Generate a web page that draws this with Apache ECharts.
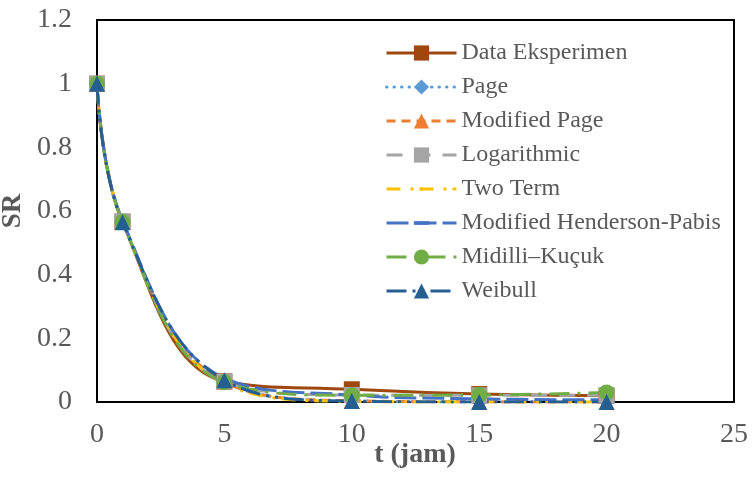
<!DOCTYPE html>
<html>
<head>
<meta charset="utf-8">
<script src="https://cdn.jsdelivr.net/npm/echarts@6/dist/echarts.min.js"></script>
<style>
html,body{margin:0;padding:0;background:#fff;}
#chart{width:752px;height:478px;}
</style>
</head>
<body>
<div id="chart"></div>
<script>
var tValues = [0, 1, 5, 10, 15, 20];
var dataEksperimen = [1, 0.566, 0.065, 0.040, 0.025, 0.020];
var page = [1, 0.566, 0.063, 0.004, 0.0005, 0.0001];
var modifiedPage = [1, 0.566, 0.063, 0.004, 0.0005, 0.0001];
var logarithmic = [1, 0.568, 0.064, 0.022, 0.021, 0.021];
var twoTerm = [1, 0.565, 0.058, 0.002, 0.0, 0.0];
var modHendersonPabis = [1, 0.570, 0.075, 0.022, 0.010, 0.007];
var midilliKucuk = [1, 0.566, 0.062, 0.021, 0.022, 0.030];
var weibull = [1, 0.565, 0.068, 0.003, 0.0001, 0.0];

var seriesNames = ['Data Eksperimen', 'Page', 'Modified Page', 'Logarithmic', 'Two Term',
  'Modified Henderson-Pabis', 'Midilli\u2013Ku\u00e7uk', 'Weibull'];
var seriesValues = [dataEksperimen, page, modifiedPage, logarithmic, twoTerm,
  modHendersonPabis, midilliKucuk, weibull];
var xTitle = 't (jam)';
var yTitle = 'SR';

var FONT = "'Liberation Serif', 'Times New Roman', Times, serif";
var BAR = 'path://M0,0M12,12M0,4.6L12,4.6L12,7.4L0,7.4Z';
var DOT = 'path://M0,0M12,12M5,4.6L7,4.6L7,7.4L5,7.4Z';

var styles = [
  {color: '#9E480E', type: 'solid', symbol: 'rect', cap: 'butt', show: true},
  {color: '#5B9BD5', type: [0.5, 7], symbol: 'diamond', cap: 'round', show: true},
  {color: '#ED7D31', type: [9, 6], symbol: 'triangle', cap: 'butt', show: true},
  {color: '#A5A5A5', type: [16, 12], symbol: 'rect', cap: 'butt', show: true},
  {color: '#FFC000', type: [14, 10, 3, 6], symbol: DOT, cap: 'butt', show: false},
  {color: '#4472C4', type: [22, 6], symbol: BAR, cap: 'butt', show: false},
  {color: '#70AD47', type: [20, 8, 3, 8], symbol: 'circle', cap: 'butt', show: true},
  {color: '#255E91', type: [20, 6, 3, 6, 3, 6], symbol: 'triangle', cap: 'butt', show: true}
];

var series = seriesNames.map(function (name, i) {
  var s = styles[i];
  return {
    name: name,
    type: 'line',
    smooth: 0.4,
    data: tValues.map(function (t, j) { return [t, seriesValues[i][j]]; }),
    symbol: s.symbol,
    symbolSize: 16,
    showSymbol: s.show,
    itemStyle: {color: s.color},
    lineStyle: {color: s.color, width: 3, type: s.type, cap: s.cap},
    emphasis: {disabled: true},
    animation: false
  };
});

var chart = echarts.init(document.getElementById('chart'), null, {renderer: 'canvas'});
chart.setOption({
  backgroundColor: '#fff',
  animation: false,
  grid: {left: 97, right: 18, top: 20, bottom: 76, show: true, borderColor: '#000', borderWidth: 2,
    containLabel: false, outerBoundsMode: 'none'},
  legend: {
    orient: 'vertical',
    left: 385,
    top: 41,
    padding: 0,
    itemWidth: 70,
    itemHeight: 19,
    itemGap: 10,
    lineStyle: {width: 3},
    textStyle: {fontFamily: FONT, fontSize: 24, color: '#595959', lineHeight: 24},
    data: seriesNames
  },
  graphic: [{
    type: 'text',
    x: 415,
    y: 441,
    silent: true,
    style: {
      text: xTitle,
      font: "bold 28px 'Liberation Serif', 'Times New Roman', serif",
      fill: '#595959',
      align: 'center',
      textAlign: 'center',
      verticalAlign: 'top',
      textVerticalAlign: 'top'
    }
  }],
  xAxis: {
    type: 'value',
    min: 0, max: 25, interval: 5,
    axisLine: {show: true, lineStyle: {color: '#000', width: 2}},
    axisTick: {show: false},
    splitLine: {show: false},
    axisLabel: {fontFamily: FONT, fontSize: 28, color: '#595959', margin: 19}
  },
  yAxis: {
    type: 'value',
    min: 0, max: 1.2, interval: 0.2,
    name: yTitle,
    nameLocation: 'middle',
    nameGap: 62,
    nameRotate: 90,
    nameTextStyle: {fontFamily: FONT, fontSize: 27, fontWeight: 'bold', color: '#595959'},
    axisLine: {show: true, lineStyle: {color: '#000', width: 2}},
    axisTick: {show: false},
    splitLine: {show: false},
    axisLabel: {fontFamily: FONT, fontSize: 28, color: '#595959', margin: 25}
  },
  series: series
});
</script>
</body>
</html>
